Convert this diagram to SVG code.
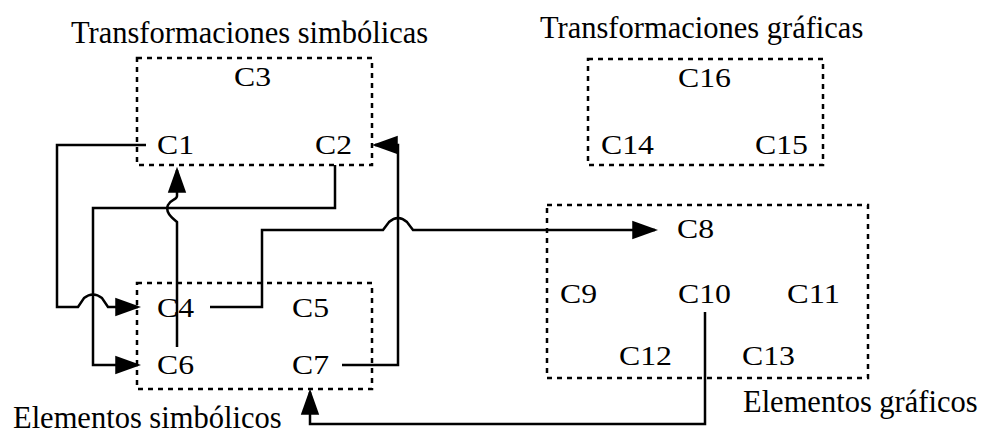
<svg xmlns="http://www.w3.org/2000/svg" width="982" height="437" viewBox="0 0 982 437">
<style>
.box{fill:none;stroke:#000;stroke-width:2.5;stroke-dasharray:5 5}
.lbl{font-family:"Liberation Serif","Times New Roman",serif;font-size:27px;fill:#000}
.ttl{font-family:"Liberation Serif","Times New Roman",serif;font-size:30.5px;fill:#000}
.wire{fill:none;stroke:#000;stroke-width:2.5;stroke-linejoin:miter}
</style>
<defs>
<marker id="ah" markerUnits="userSpaceOnUse" markerWidth="26" markerHeight="20" viewBox="0 0 24 17" refX="21" refY="8.5" orient="auto">
<path d="M0,0 L24,8.5 L0,17 Z" fill="#000"/>
</marker>
</defs>
<rect width="982" height="437" fill="#fff"/>

<g id="transformaciones-simbolicas">
<rect class="box" x="137" y="58" width="235" height="107"/>
<text class="ttl" x="71" y="43">Transformaciones simbólicas</text>
<text class="lbl" x="234" y="86" textLength="37" lengthAdjust="spacingAndGlyphs">C3</text>
<text class="lbl" x="157" y="154" textLength="37" lengthAdjust="spacingAndGlyphs">C1</text>
<text class="lbl" x="315" y="154" textLength="37" lengthAdjust="spacingAndGlyphs">C2</text>
</g>

<g id="elementos-simbolicos">
<rect class="box" x="137" y="283" width="235" height="106"/>
<text class="ttl" x="13" y="428">Elementos simbólicos</text>
<text class="lbl" x="157" y="317" textLength="37" lengthAdjust="spacingAndGlyphs">C4</text>
<text class="lbl" x="292" y="317" textLength="37" lengthAdjust="spacingAndGlyphs">C5</text>
<text class="lbl" x="157" y="374" textLength="37" lengthAdjust="spacingAndGlyphs">C6</text>
<text class="lbl" x="292" y="374" textLength="37" lengthAdjust="spacingAndGlyphs">C7</text>
</g>

<g id="transformaciones-graficas">
<rect class="box" x="588" y="59" width="235" height="106"/>
<text class="ttl" x="540" y="38">Transformaciones gráficas</text>
<text class="lbl" x="678" y="87" textLength="53" lengthAdjust="spacingAndGlyphs">C16</text>
<text class="lbl" x="601" y="154" textLength="53" lengthAdjust="spacingAndGlyphs">C14</text>
<text class="lbl" x="755" y="154" textLength="53" lengthAdjust="spacingAndGlyphs">C15</text>
</g>

<g id="elementos-graficos">
<rect class="box" x="547" y="205" width="321" height="173"/>
<text class="ttl" x="743" y="412">Elementos gráficos</text>
<text class="lbl" x="677" y="238" textLength="37" lengthAdjust="spacingAndGlyphs">C8</text>
<text class="lbl" x="560" y="303" textLength="37" lengthAdjust="spacingAndGlyphs">C9</text>
<text class="lbl" x="678" y="303" textLength="53" lengthAdjust="spacingAndGlyphs">C10</text>
<text class="lbl" x="787" y="303" textLength="53" lengthAdjust="spacingAndGlyphs">C11</text>
<text class="lbl" x="619" y="365" textLength="53" lengthAdjust="spacingAndGlyphs">C12</text>
<text class="lbl" x="742" y="365" textLength="53" lengthAdjust="spacingAndGlyphs">C13</text>
</g>

<g id="connectors">
<path class="wire" d="M146,145 H57 V307 H78 L84,298 Q93,291 102,298 L108,307 H138" marker-end="url(#ah)"/>
<path class="wire" d="M335,165 V208 H93 V365 H138" marker-end="url(#ah)"/>
<path class="wire" d="M177,347 V222 C171,217 165,212 168,205 C171,199 177,200 177,196 V170" marker-end="url(#ah)"/>
<path class="wire" d="M342,365 H398 V145 H375" marker-end="url(#ah)"/>
<path class="wire" d="M210,307 H262 V230 H383 L389,222 Q398,214 407,222 L413,230 H655" marker-end="url(#ah)"/>
<path class="wire" d="M705,312 V424 H310 V392" marker-end="url(#ah)"/>
</g>
</svg>
